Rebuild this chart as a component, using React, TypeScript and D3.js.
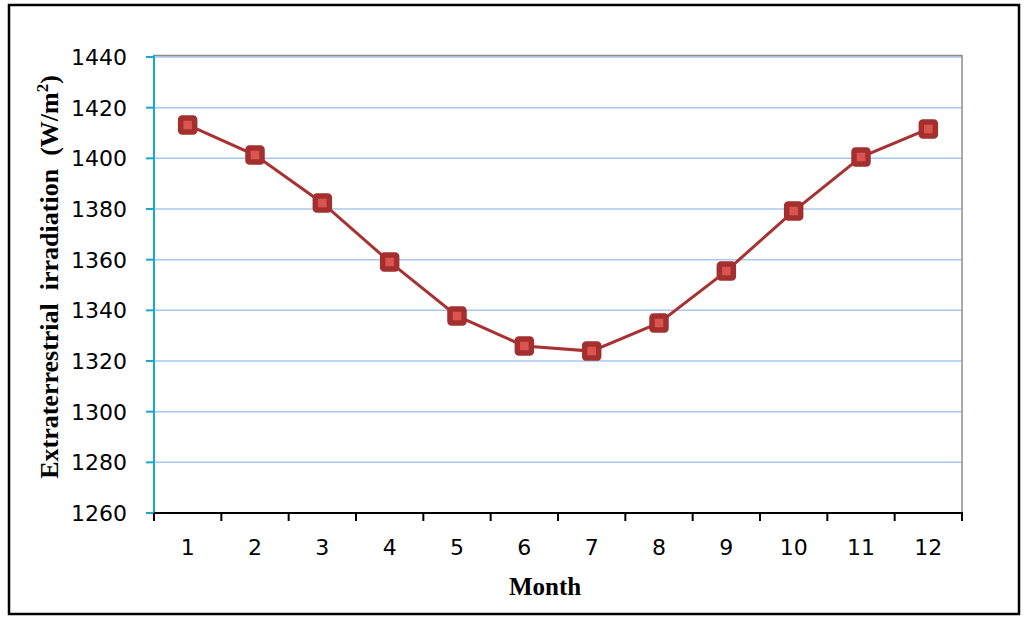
import React from "react";
import * as d3 from "d3";

const months = ["1", "2", "3", "4", "5", "6", "7", "8", "9", "10", "11", "12"];
const irradiation = [1413.2, 1401.3, 1382.4, 1359.1, 1337.8, 1325.9, 1323.9, 1335.0, 1355.5, 1379.2, 1400.5, 1411.6];
const yTicks = [1260, 1280, 1300, 1320, 1340, 1360, 1380, 1400, 1420, 1440];

export default function App() {
  const W = 1024, H = 624;
  const left = 154, right = 962, top = 57, bottom = 513;
  const x = d3.scaleBand<string>().domain(months).range([left, right]);
  const y = d3.scaleLinear().domain([1260, 1440]).range([bottom, top]);
  const line = d3.line<number>()
    .x((_, i) => (x(months[i]) as number) + x.bandwidth() / 2)
    .y((d) => y(d));
  const boundaries = months.map((m) => x(m) as number).concat([right]);
  const tickFont = "'DejaVu Sans', Verdana, sans-serif";
  const titleFont = "'Liberation Serif', 'Times New Roman', serif";
  return (
    <svg width={W} height={H} style={{ position: "absolute", left: 0, top: 0, background: "#fff" }}>
      <rect x={9} y={5} width={1010} height={609} fill="#fff" stroke="#000" strokeWidth={2.5} />
      {/* gridlines */}
      {yTicks.filter((t) => t !== 1260).map((t) => (
        <line key={t} x1={left} x2={right} y1={y(t)} y2={y(t)} stroke="#a9c7ee" strokeWidth={1.5} />
      ))}
      {/* plot top/right border */}
      <line x1={left} x2={right} y1={top - 1.5} y2={top - 1.5} stroke="#8c8c8c" strokeWidth={1.5} />
      <line x1={right} x2={right} y1={top - 2} y2={bottom} stroke="#8c8c8c" strokeWidth={1.5} />
      {/* y axis */}
      <line x1={left} x2={left} y1={top - 2} y2={bottom} stroke="#16a9c9" strokeWidth={2} />
      {yTicks.map((t) => (
        <g key={t}>
          <line x1={left - 8} x2={left} y1={y(t)} y2={y(t)} stroke="#16a9c9" strokeWidth={2} />
          <text x={127} y={y(t)} dy="0.36em" textAnchor="end" fontFamily={tickFont} fontSize={22} fill="#000">{t}</text>
        </g>
      ))}
      {/* x axis */}
      <line x1={left} x2={right + 1} y1={bottom} y2={bottom} stroke="#000" strokeWidth={2} />
      {boundaries.map((b, i) => (
        <line key={i} x1={b} x2={b} y1={bottom} y2={bottom + 8} stroke="#000" strokeWidth={2} />
      ))}
      {months.map((m) => (
        <text key={m} x={(x(m) as number) + x.bandwidth() / 2} y={555} textAnchor="middle" fontFamily={tickFont} fontSize={22} fill="#000">{m}</text>
      ))}
      {/* series */}
      <path d={line(irradiation) || ""} fill="none" stroke="#a83232" strokeWidth={3} />
      {irradiation.map((v, i) => {
        const cx = (x(months[i]) as number) + x.bandwidth() / 2;
        const cy = y(v);
        return (
          <rect key={i} x={cx - 7} y={cy - 7} width={14} height={14} rx={1.5}
            fill="#dc5450" stroke="#a3302e" strokeWidth={5.5} strokeLinejoin="round" />
        );
      })}
      {/* titles */}
      <text x={545} y={595} textAnchor="middle" fontFamily={titleFont} fontWeight="bold" fontSize={25} fill="#000">Month</text>
      <text transform={`translate(58, 277) rotate(-90)`} textAnchor="middle" fontFamily={titleFont} fontWeight="bold" fontSize={26} fill="#000" xmlSpace="preserve">
        Extraterrestrial  irradiation  (W/m<tspan dy={-10} fontSize={17}>2</tspan><tspan dy={10}>)</tspan>
      </text>
    </svg>
  );
}
